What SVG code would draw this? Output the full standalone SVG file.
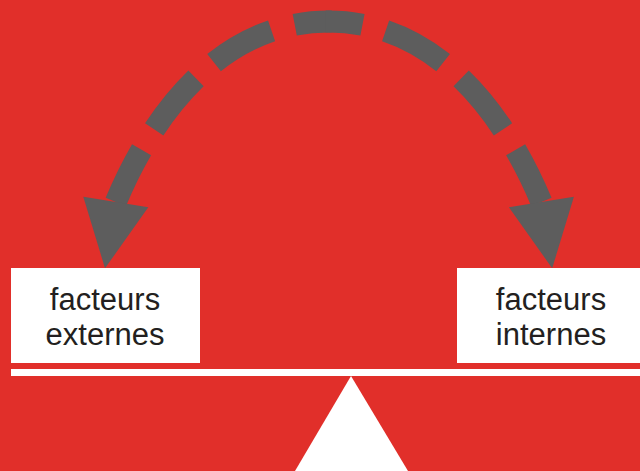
<svg xmlns="http://www.w3.org/2000/svg" xmlns:xlink="http://www.w3.org/1999/xlink" width="640" height="471" viewBox="0 0 640 471">
<style>
.box{fill:#ffffff}
.lbl{font-family:"Liberation Sans",Arial,sans-serif;font-size:31px;fill:#231f20;text-anchor:middle}
.arc{fill:none;stroke:#5d5d5d;stroke-width:22;stroke-dasharray:37 24 66 24 66 24 66 24 400}
.head{fill:#5d5d5d}
</style>
<defs>
<path id="half" d="M331.6,21.5 L328.6,21.5 C218.6,21.5 150.9,118 115.8,202"/>
<polygon id="headL" points="83.3,196.7 148.3,207.3 105,268.3"/>
</defs>
<rect width="640" height="471" fill="#e12f2a"/>
<g id="connectors">
<use xlink:href="#half" class="arc"/>
<use xlink:href="#half" class="arc" transform="translate(657.2,0) scale(-1,1)"/>
<use xlink:href="#headL" class="head"/>
<use xlink:href="#headL" class="head" transform="translate(657.2,0) scale(-1,1)"/>
</g>
<g id="node-externes">
<rect class="box" x="11" y="268" width="189" height="95"/>
<text class="lbl" x="105" y="310">facteurs</text>
<text class="lbl" x="105" y="345">externes</text>
</g>
<g id="node-internes">
<rect class="box" x="457" y="268" width="183" height="95"/>
<text class="lbl" x="551" y="310">facteurs</text>
<text class="lbl" x="551" y="345">internes</text>
</g>
<g id="balance">
<rect class="box" x="11" y="369" width="629" height="7"/>
<polygon class="box" points="351,376 295,471 408,471"/>
</g>
</svg>
